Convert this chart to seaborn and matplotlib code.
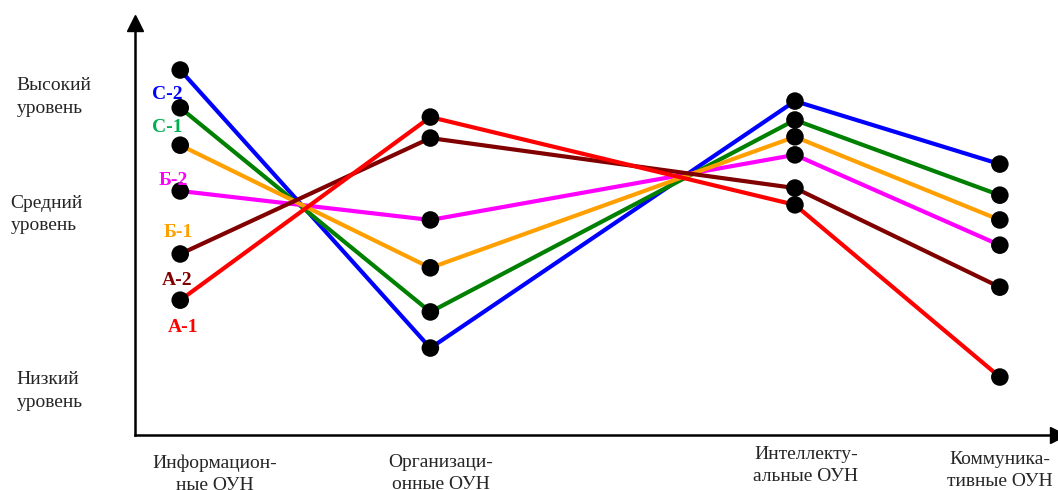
import matplotlib
matplotlib.use("Agg")
import matplotlib.pyplot as plt
import seaborn as sns
import pandas as pd

# категории (ОУН) и уровни
categories = ["Информацион-\nные ОУН", "Организаци-\nонные ОУН",
              "Интеллекту-\nальные ОУН", "Коммуника-\nтивные ОУН"]
levels = ["Высокий\nуровень", "Средний\nуровень", "Низкий\nуровень"]

# значения групп (условная шкала 0..100)
groups = ["С-2", "С-1", "Б-2", "Б-1", "А-2", "А-1"]
s2 = [86.9, 20.7, 79.5, 64.5]
s1 = [77.9, 29.3, 75.0, 57.1]
b2 = [58.1, 51.2, 66.7, 45.2]
b1 = [69.0, 39.8, 71.0, 51.2]
a2 = [43.1, 70.7, 58.8, 35.2]
a1 = [32.1, 75.7, 54.8, 13.8]

# оформление
x_pos = [4.9, 32.0, 71.5, 93.7]          # положение категорий по оси x
level_y = [80.5, 52.5, 10.5]             # положение подписей уровней
level_x = [-0.128, -0.135, -0.128]
line_colors = ["#0000FF", "#008000", "#FF00FF", "#FFA000", "#800000", "#FF0000"]
label_colors = ["#0000FF", "#00B050", "#FF00FF", "#FFA000", "#800000", "#FF0000"]
label_xy = [(3.5, 81.0), (3.5, 73.1), (4.2, 60.7), (4.7, 48.1), (4.6, 36.7), (5.2, 25.7)]

series = [s2, s1, b2, b1, a2, a1]
rows = []
for g, vals in zip(groups, series):
    for x, v in zip(x_pos, vals):
        rows.append({"x": x, "value": v, "group": g})
df = pd.DataFrame(rows)

sns.set_style("white")
plt.rcParams["font.family"] = ["Liberation Serif", "DejaVu Serif"]

fig = plt.figure(figsize=(10.58, 4.90), dpi=100)
ax_h = 412
ax = fig.add_axes([135 / 1058, 55 / 490, 923 / 1058, ax_h / 490])

sns.lineplot(data=df, x="x", y="value", hue="group", palette=line_colors,
             linewidth=3, legend=False, ax=ax, zorder=2)
sns.scatterplot(data=df, x="x", y="value", color="black", s=160,
                edgecolor="none", ax=ax, zorder=3, clip_on=False)

for g, c, (lx, ly) in zip(groups, label_colors, label_xy):
    ax.text(lx, ly, g, color=c, fontsize=14, fontweight="bold",
            ha="center", va="center")

ax.set_xlim(0, 100)
ax.set_ylim(0, 100 * ax_h / 420)
ax.set_xticks([])
ax.set_yticks([])
ax.set_xlabel("")
ax.set_ylabel("")
for side in ["top", "right"]:
    ax.spines[side].set_visible(False)
for side in ["left", "bottom"]:
    ax.spines[side].set_linewidth(1.8)
    ax.spines[side].set_color("black")

# стрелки осей
ax.plot(0, 1.0, marker="^", color="black", markersize=12,
        transform=ax.transAxes, clip_on=False)
ax.plot(1, 0, marker=">", color="black", markersize=12,
        transform=ax.transAxes, clip_on=False)

# подписи уровней
for txt, x, y in zip(levels, level_x, level_y):
    ax.text(x, y, txt, transform=ax.get_yaxis_transform(),
            fontsize=14, ha="left", va="center", linespacing=1.4)

# подписи категорий
cat_px = [215, 441, 806, 1000]
cat_top = [454, 454, 446, 451]
for txt, px, py in zip(categories, cat_px, cat_top):
    fig.text(px / 1058, 1 - py / 490, txt, fontsize=14, ha="center",
             va="top", linespacing=1.4)

fig.savefig("out.png", dpi=100)
